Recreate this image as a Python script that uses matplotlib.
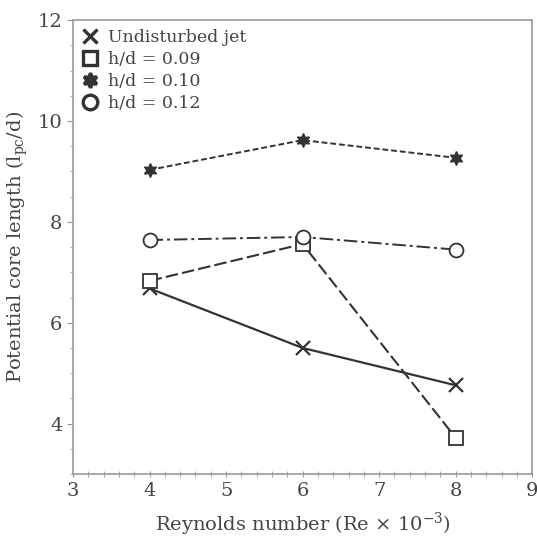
import matplotlib
matplotlib.use("Agg")
import matplotlib.pyplot as plt
from matplotlib.ticker import MultipleLocator

# ── Data ───────────────────────────────────────────────────────────────────
reynolds = [4, 6, 8]
undisturbed = [6.68, 5.50, 4.76]
hd_009 = [6.83, 7.56, 3.72]
hd_010 = [9.03, 9.62, 9.27]
hd_012 = [7.64, 7.70, 7.45]

labels = ["Undisturbed jet", "h/d = 0.09", "h/d = 0.10", "h/d = 0.12"]

# ── Style ──────────────────────────────────────────────────────────────────
plt.rcParams.update({
    "font.family": "DejaVu Serif",
    "mathtext.fontset": "dejavuserif",
})

ink = "#333333"
spine = "#999999"
text_col = "#444444"

fig = plt.figure(figsize=(5.37, 5.43), dpi=100)
ax = fig.add_axes([0.136, 0.127, 0.855, 0.836])

ax.plot(reynolds, undisturbed, color=ink, lw=1.6, ls="-",
        marker="x", ms=10, mew=1.6, label=labels[0])
ax.plot(reynolds, hd_009, color=ink, lw=1.5, ls=(0, (6, 2)),
        marker="s", ms=10, mfc="white", mew=1.3, label=labels[1])
ax.plot(reynolds, hd_010, color=ink, lw=1.4, ls=(0, (3, 1.5)),
        marker=(6, 1, 0), ms=10, mfc=ink, label=labels[2])
ax.plot(reynolds, hd_012, color=ink, lw=1.4, ls=(0, (7, 2, 1.5, 2)),
        marker="o", ms=10, mfc="white", mew=1.3, label=labels[3])

ax.set_xlim(3, 9)
ax.set_ylim(3, 12)
ax.xaxis.set_major_locator(MultipleLocator(1))
ax.xaxis.set_minor_locator(MultipleLocator(0.2))
ax.yaxis.set_major_locator(MultipleLocator(2))
ax.yaxis.set_minor_locator(MultipleLocator(0.5))

for s in ax.spines.values():
    s.set_color(spine)
    s.set_linewidth(1.2)
ax.tick_params(which="both", color=spine, labelcolor=text_col, labelsize=14)
ax.tick_params(axis="y", which="major", length=4)
ax.tick_params(axis="y", which="minor", length=2.5)
ax.tick_params(axis="x", which="both", direction="inout", length=4)
ax.set_yticks([4, 6, 8, 10, 12])

ax.set_xlabel("Reynolds number (Re × 10$^{-3}$)", fontsize=14, color=text_col, labelpad=8)
ax.set_ylabel("Potential core length (l$_{\\mathrm{pc}}$/d)", fontsize=14, color=text_col, labelpad=6)

leg = ax.legend(loc="upper left", frameon=False, fontsize=12.5, handlelength=1.0,
                handletextpad=0.5, labelspacing=0.3, borderaxespad=0.3,
                borderpad=0.2, markerscale=1.05)
for h in leg.legend_handles:
    h.set_linestyle("none")
    h.set_markeredgewidth(2.4)
for t in leg.get_texts():
    t.set_color(text_col)

fig.savefig("out.png", dpi=100)
